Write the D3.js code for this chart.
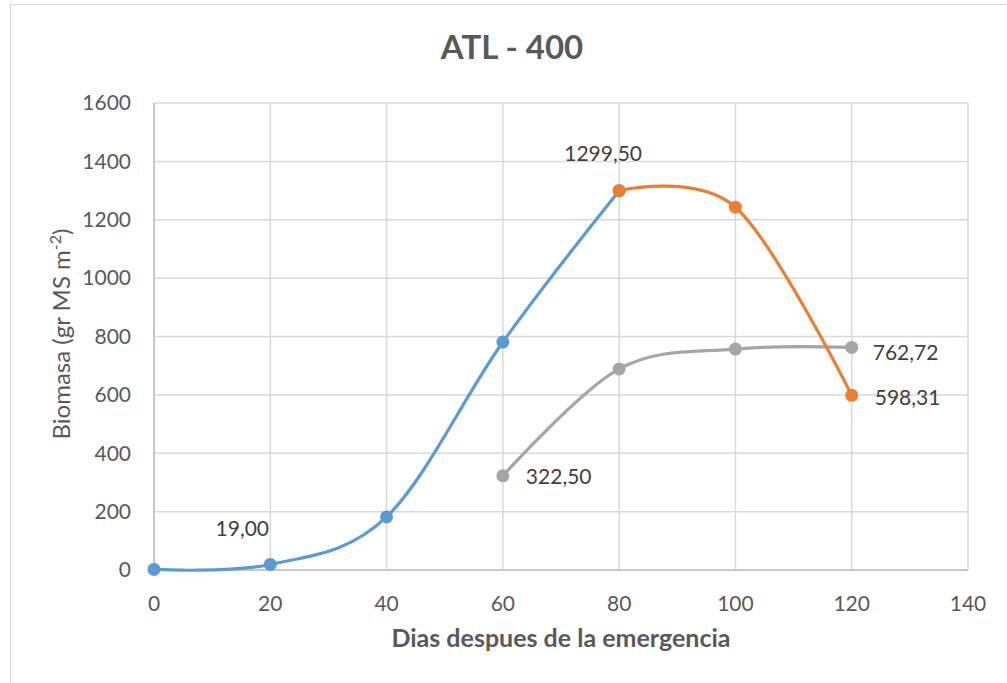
<!DOCTYPE html>
<html><head><meta charset="utf-8">
<script src="https://cdn.jsdelivr.net/npm/d3@7"></script>
<style>body{margin:0;background:#fff}</style>
</head><body>
<svg id="c" width="1007" height="683"></svg>
<script>
const xTicks = [0,20,40,60,80,100,120,140];
const yTicks = [0,200,400,600,800,1000,1200,1400,1600];
const blueX = [0,20,40,60,80];
const blueY = [2,19.00,182,781,1299.50];
const orangeX = [80,100,120];
const orangeY = [1299.50,1243,598.31];
const grayX = [60,80,100,120];
const grayY = [322.50,689,757,762.72];
const labels = [
  {x:20,y:19.00,text:"19,00",dx:-28,dy:-36,anchor:"middle"},
  {x:80,y:1299.50,text:"1299,50",dx:-16,dy:-37,anchor:"middle"},
  {x:60,y:322.50,text:"322,50",dx:23,dy:1,anchor:"start"},
  {x:120,y:762.72,text:"762,72",dx:21,dy:5,anchor:"start"},
  {x:120,y:598.31,text:"598,31",dx:23,dy:2,anchor:"start"}
];

const svg = d3.select("#c");
const font = "Lato, 'Open Sans', sans-serif";
svg.append("rect").attr("x",10.5).attr("y",4.5).attr("width",1000).attr("height",700)
  .attr("fill","#fff").attr("stroke","#d9d9d9").attr("stroke-width",1);

const x = d3.scaleLinear().domain([0,140]).range([154,968]);
const y = d3.scaleLinear().domain([0,1600]).range([570,103]);

const g = svg.append("g");
g.selectAll(".hg").data(yTicks).join("line")
  .attr("x1",x(0)).attr("x2",x(140)).attr("y1",d=>y(d)).attr("y2",d=>y(d))
  .attr("stroke","#d9d9d9").attr("stroke-width",1.5);
g.selectAll(".vg").data(xTicks).join("line")
  .attr("y1",y(0)).attr("y2",y(1600)).attr("x1",d=>x(d)).attr("x2",d=>x(d))
  .attr("stroke","#d9d9d9").attr("stroke-width",1.5);
g.append("line").attr("x1",x(0)).attr("x2",x(140)).attr("y1",y(0)).attr("y2",y(0))
  .attr("stroke","#bfbfbf").attr("stroke-width",1.5);
g.append("line").attr("x1",x(0)).attr("x2",x(0)).attr("y1",y(0)).attr("y2",y(1600))
  .attr("stroke","#bfbfbf").attr("stroke-width",1.5);

g.selectAll(".yl").data(yTicks).join("text")
  .attr("x",131).attr("y",d=>y(d)).attr("dy","0.35em").attr("text-anchor","end")
  .attr("font-family",font).attr("font-size",21).attr("fill","#595959").text(d=>d);
g.selectAll(".xl").data(xTicks).join("text")
  .attr("x",d=>x(d)).attr("y",604).attr("dy","0.35em").attr("text-anchor","middle")
  .attr("font-family",font).attr("font-size",21).attr("fill","#595959").text(d=>d);

svg.append("text").attr("x",512).attr("y",59).attr("text-anchor","middle")
  .attr("font-family",font).attr("font-weight","bold").attr("font-size",33)
  .attr("fill","#595959").text("ATL - 400");
svg.append("text").attr("x",561).attr("y",647).attr("text-anchor","middle")
  .attr("font-family",font).attr("font-weight","bold").attr("font-size",25)
  .attr("fill","#595959").text("Dias despues de la emergencia");
const yt = svg.append("text").attr("transform","translate(70,334) rotate(-90)")
  .attr("text-anchor","middle").attr("font-family",font).attr("font-size",24)
  .attr("fill","#595959");
yt.append("tspan").text("Biomasa (gr MS m");
yt.append("tspan").attr("dy",-9).attr("font-size",16).text("-2");
yt.append("tspan").attr("dy",9).text(")");

const line = d3.line().x(d=>x(d[0])).y(d=>y(d[1])).curve(d3.curveCardinal.tension(0));
const series = [
  {xs:blueX,ys:blueY,color:"#5b9bd5"},
  {xs:grayX,ys:grayY,color:"#a5a5a5"},
  {xs:orangeX,ys:orangeY,color:"#ed7d31"}
];
series.forEach(s=>{
  const pts = s.xs.map((v,i)=>[v,s.ys[i]]);
  g.append("path").attr("d",line(pts)).attr("fill","none")
    .attr("stroke",s.color).attr("stroke-width",3.2).attr("stroke-linecap","round");
});
series.forEach(s=>{
  const pts = s.xs.map((v,i)=>[v,s.ys[i]]);
  g.selectAll(null).data(pts).join("circle")
    .attr("cx",d=>x(d[0])).attr("cy",d=>y(d[1])).attr("r",6.5).attr("fill",s.color);
});

labels.forEach(l=>{
  g.append("text").attr("font-family",font).attr("font-size",21)
    .attr("fill","#404040").text(l.text)
    .attr("x",x(l.x)+l.dx).attr("y",y(l.y)+l.dy).attr("dy","0.35em").attr("text-anchor",l.anchor);
});
</script>
</body></html>
